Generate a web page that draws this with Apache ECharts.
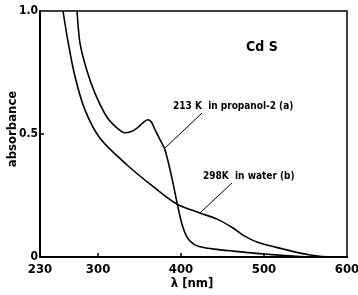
<!DOCTYPE html>
<html>
<head>
<meta charset="utf-8">
<script src="https://cdn.jsdelivr.net/npm/echarts@6/dist/echarts.min.js"></script>
<style>
    html, body { margin: 0; padding: 0; background: #fff; }
    #chart { width: 358px; height: 295px; }
</style>
</head>
<body>
<div id="chart"></div>
<script>
    // 213 K in propanol-2 (a)
    const propanolLambda = [274.6, 278.2, 286.3, 296.3, 310.4, 322, 332.4, 340, 346.5, 354, 359.5, 364, 368.6, 374.6, 380.7, 388.7, 395.5, 400.8, 406.8, 414.8, 422.8, 440, 462.6, 500, 543, 579.5, 600]
    const propanolAbs = [1.0, 0.869, 0.76, 0.665, 0.570, 0.527, 0.505, 0.510, 0.523, 0.545, 0.558, 0.550, 0.518, 0.477, 0.435, 0.326, 0.215, 0.137, 0.083, 0.053, 0.042, 0.032, 0.024, 0.012, 0.002, 0, 0]
    // 298 K in water (b)
    const waterLambda = [257.7, 264.1, 272.2, 284.2, 302.3, 334.9, 365, 395.1, 422.8, 443.3, 462.6, 474.7, 491.5, 522.9, 555.4, 583, 600]
    const waterAbs = [1.0, 0.869, 0.733, 0.598, 0.4825, 0.374, 0.29, 0.215, 0.179, 0.154, 0.118, 0.089, 0.061, 0.0325, 0.008, 0, 0]

    const xTicks = [230, 300, 400, 500, 600]
    const yTicks = [0, 0.5, 1.0]

    const pair = (xs, ys) => xs.map((x, i) => [x, ys[i]])

    let chart = echarts.init(document.getElementById('chart'))
    const font = 'DejaVu Sans Condensed'
    const option = {
        animation: false,
        grid: {
            left: 40, top: 11, right: 11, bottom: 38,
            outerBoundsMode: 'none',
            containLabel: false,
            show: true,
            borderColor: '#000',
            borderWidth: 1.5
        },
        xAxis: {
            type: 'value',
            min: 230, max: 600,
            axisLine: { show: true, lineStyle: { color: '#000', width: 2 } },
            axisTick: { show: true, inside: true, length: 4, customValues: [300, 400, 500], lineStyle: { color: '#000', width: 1.5 } },
            axisLabel: { customValues: xTicks, color: '#000', fontSize: 13, fontWeight: 'bold', fontFamily: font, margin: 6 },
            splitLine: { show: false }
        },
        yAxis: {
            type: 'value',
            min: 0, max: 1,
            axisLine: { show: true, lineStyle: { color: '#000', width: 2 } },
            axisTick: { show: true, inside: true, length: 4, customValues: [0.5], lineStyle: { color: '#000', width: 1.5 } },
            axisLabel: {
                customValues: yTicks, color: '#000', fontSize: 12, fontWeight: 'bold', fontFamily: font, margin: 2,
                formatter: v => v === 0 ? '0' : v.toFixed(1)
            },
            splitLine: { show: false }
        },
        series: [
            {
                name: 'propanol',
                type: 'line',
                data: pair(propanolLambda, propanolAbs),
                smooth: 0.25,
                showSymbol: false,
                lineStyle: { color: '#000', width: 1.6 },
                markLine: {
                    silent: true, symbol: 'none',
                    lineStyle: { color: '#000', width: 1, type: 'solid' },
                    label: { show: false },
                    data: [[{ coord: [425.2, 0.585] }, { coord: [380.7, 0.443] }]]
                }
            },
            {
                name: 'water',
                type: 'line',
                data: pair(waterLambda, waterAbs),
                smooth: 0.3,
                showSymbol: false,
                lineStyle: { color: '#000', width: 1.6 },
                markLine: {
                    silent: true, symbol: 'none',
                    lineStyle: { color: '#000', width: 1, type: 'solid' },
                    label: { show: false },
                    data: [[{ coord: [461.4, 0.301] }, { coord: [422.8, 0.179] }]]
                }
            }
        ],
        graphic: [
            // axis titles
            { type: 'text', x: 13, y: 129, rotation: Math.PI / 2, style: { text: 'absorbance', fontSize: 13, fontWeight: 'bold', fontFamily: font, fill: '#000', align: 'center', verticalAlign: 'middle' } },
            { type: 'text', x: 192, y: 284, style: { text: 'λ [nm]', fontSize: 13, fontWeight: 'bold', fontFamily: font, fill: '#000', align: 'center', verticalAlign: 'middle' } },
            // annotations
            { type: 'text', left: 246, top: 40, style: { text: 'Cd S', fontSize: 14, fontWeight: 'bold', fontFamily: font, fill: '#000' } },
            { type: 'text', left: 173, top: 101, style: { text: '213 K  in propanol-2 (a)', fontSize: 10, fontWeight: 'bold', fontFamily: font, fill: '#000' } },
            { type: 'text', left: 203, top: 171, style: { text: '298K  in water (b)', fontSize: 10, fontWeight: 'bold', fontFamily: font, fill: '#000' } }
        ]
    }
    chart.setOption(option)
</script>
</body>
</html>
